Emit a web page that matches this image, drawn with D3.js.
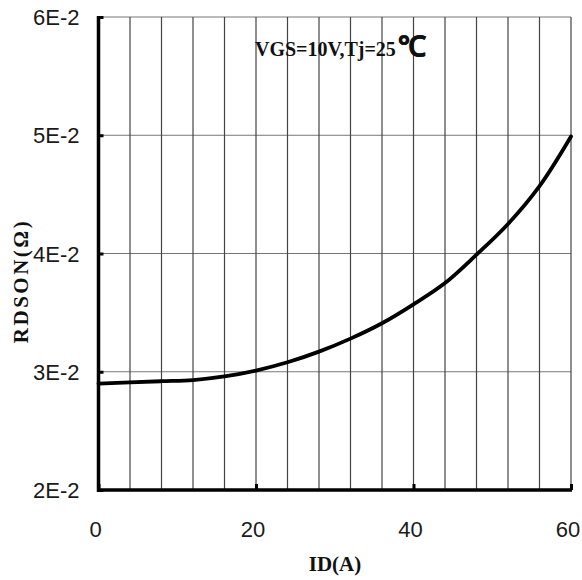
<!DOCTYPE html>
<html>
<head>
    <script src="https://d3js.org/d3.v7.min.js"></script>
    <style>
        body { margin: 0; background: #fff; }
        .tick-label { font-family: "Liberation Sans", Arial, sans-serif; font-size: 22px; fill: #1a1a1a; }
        .title { font-family: "Liberation Serif", "Times New Roman", serif; font-weight: bold; fill: #111; }
    </style>
</head>
<body>
<div id="chart"></div>
<script>
    // ID (A) vs RDSON (ohm)
    const currentA = [0, 4, 8, 12, 16, 20, 24, 28, 32, 36, 40, 44, 48, 52, 56, 60];
    const rdson = [0.0290, 0.0291, 0.0292, 0.0293, 0.0296, 0.0301, 0.0308, 0.0317, 0.0328, 0.0341,
                   0.0357, 0.0375, 0.0399, 0.0425, 0.0457, 0.0499];
    const xTicks = [0, 20, 40, 60];
    const xGrid = d3.range(0, 61, 4);
    const yTicks = [0.02, 0.03, 0.04, 0.05, 0.06];
    const yTickLabels = ["2E-2", "3E-2", "4E-2", "5E-2", "6E-2"];

    const W = 582, H = 580;
    const margin = { top: 17, right: 11, bottom: 90, left: 98.5 };
    const width = W - margin.left - margin.right,
        height = H - margin.top - margin.bottom;

    const svg = d3.select("#chart").append("svg")
        .attr("width", W).attr("height", H);
    const g = svg.append("g").attr("transform", `translate(${margin.left},${margin.top})`);

    const x = d3.scaleLinear().domain([0, 60]).range([0, width]);
    const y = d3.scaleLinear().domain([0.02, 0.06]).range([height, 0]);

    // grid
    g.selectAll(".hgrid").data(yTicks.slice(1)).join("line")
        .attr("x1", 0).attr("x2", width)
        .attr("y1", d => y(d)).attr("y2", d => y(d))
        .attr("stroke", "#777").attr("stroke-width", 1);
    g.selectAll(".vgrid").data(xGrid.slice(1)).join("line")
        .attr("x1", d => x(d)).attr("x2", d => x(d))
        .attr("y1", 0).attr("y2", height)
        .attr("stroke", "#444").attr("stroke-width", 1.2);

    // axes
    const yAxis = g.append("g")
        .call(d3.axisRight(y).tickValues(yTicks).tickSize(5).tickFormat(""));
    yAxis.select(".domain").remove();
    yAxis.selectAll("line").attr("stroke", "#000").attr("stroke-width", 3);
    g.append("line").attr("x1", 0).attr("x2", 0).attr("y1", -1).attr("y2", height + 2)
        .attr("stroke", "#000").attr("stroke-width", 3.5);

    const xAxis = g.append("g").attr("transform", `translate(0,${height})`)
        .call(d3.axisTop(x).tickValues(xTicks).tickSize(6).tickFormat(""));
    xAxis.select(".domain").remove();
    xAxis.selectAll("line").attr("stroke", "#000").attr("stroke-width", 3);
    g.append("line").attr("x1", -1.5).attr("x2", width + 1).attr("y1", height).attr("y2", height)
        .attr("stroke", "#000").attr("stroke-width", 3.5);

    // tick labels
    g.selectAll(".ylab").data(yTicks).join("text")
        .attr("class", "tick-label")
        .attr("x", -19).attr("y", d => y(d) + 8)
        .attr("text-anchor", "end")
        .text((d, i) => yTickLabels[i]);
    g.selectAll(".xlab").data(xTicks).join("text")
        .attr("class", "tick-label")
        .attr("x", d => x(d) - 3).attr("y", height + 47)
        .attr("text-anchor", "middle")
        .text(d => d);

    // curve
    const line = d3.line()
        .x((d, i) => x(currentA[i]))
        .y(d => y(d))
        .curve(d3.curveCatmullRom.alpha(0.5));
    g.append("path").datum(rdson)
        .attr("d", line)
        .attr("fill", "none")
        .attr("stroke", "#000")
        .attr("stroke-width", 3.8)
        .attr("stroke-linecap", "round");

    // titles
    svg.append("text").attr("class", "title")
        .attr("x", 335).attr("y", 571)
        .attr("text-anchor", "middle")
        .style("font-size", "21px")
        .text("ID(A)");
    svg.append("text").attr("class", "title")
        .attr("transform", "translate(28,281) rotate(-90)")
        .attr("text-anchor", "middle")
        .style("font-size", "21px")
        .style("letter-spacing", "2.5px")
        .text("RDSON(Ω)");

    const note = svg.append("text").attr("class", "title")
        .attr("x", 255).attr("y", 56)
        .style("font-size", "20px");
    note.append("tspan").text("VGS=10V,Tj=25");
    note.append("tspan").attr("dx", 2)
        .style("font-size", "28px")
        .style("stroke", "#111").style("stroke-width", 0.6)
        .text("℃");
</script>
</body>
</html>
